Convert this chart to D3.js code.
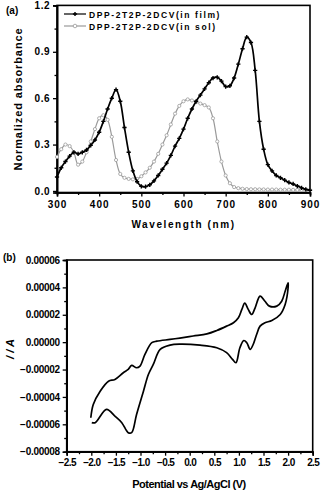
<!DOCTYPE html>
<html><head><meta charset="utf-8">
<script src="https://cdn.jsdelivr.net/npm/d3@7/dist/d3.min.js"></script>
<style>
html,body{margin:0;padding:0;background:#fff;}
svg text{font-family:"Liberation Sans",Arial,sans-serif;font-weight:bold;fill:#000;}
</style></head>
<body>
<svg id="c" width="322" height="492"></svg>
<script>
// ---- Panel (a) data: UV-vis absorption ----
const wavelength = [300,310,320,330,340,350,360,370,380,390,400,410,420,430,440,450,460,470,480,490,500,510,520,530,540,550,560,570,580,590,600,610,620,630,640,650,660,670,680,690,700,710,720,730,740,750,760,770,780,790,800,810,820,830,840,850,860,870,880,890,900];
const filmAbs = [0.09,0.15,0.19,0.225,0.25,0.24,0.25,0.265,0.295,0.33,0.38,0.45,0.53,0.6,0.655,0.58,0.41,0.25,0.13,0.06,0.03,0.028,0.04,0.065,0.1,0.14,0.18,0.23,0.29,0.34,0.4,0.47,0.53,0.58,0.62,0.66,0.7,0.73,0.735,0.71,0.675,0.68,0.73,0.82,0.92,0.995,0.96,0.78,0.45,0.27,0.17,0.13,0.1,0.085,0.07,0.055,0.045,0.032,0.02,0.01,0.005];
const solAbs = [0.22,0.27,0.3,0.29,0.25,0.17,0.19,0.25,0.32,0.4,0.47,0.49,0.46,0.35,0.2,0.11,0.085,0.078,0.075,0.078,0.095,0.12,0.15,0.19,0.24,0.3,0.36,0.43,0.5,0.55,0.58,0.592,0.585,0.575,0.565,0.555,0.54,0.47,0.32,0.19,0.1,0.05,0.025,0.018,0.014,0.012,0.011,0.011,0.01,0.01,0.009,0.009,0.009,0.008,0.008,0.008,0.007,0.007,0.007,0.006,0.006];
const seriesNames = ["DPP-2T2P-2DCV(in film)","DPP-2T2P-2DCV(in sol)"];
const aXTicks = [300,400,500,600,700,800,900];
const aYTicks = [0.0,0.3,0.6,0.9,1.2];

// ---- Panel (b) data: cyclic voltammogram (current in units of 1e-5 A) ----
const cvPotential = [-2.01,-1.96,-1.82,-1.65,-1.52,-1.35,-1.25,-1.18,-1.08,-1.01,-0.91,-0.77,-0.67,-0.4,-0.2,0.07,0.35,0.55,0.75,0.89,0.99,1.06,1.12,1.19,1.26,1.33,1.43,1.53,1.62,1.77,1.87,1.94,2.0,
  2.0,1.94,1.84,1.67,1.53,1.43,1.36,1.29,1.23,1.16,1.1,1.02,0.94,0.87,0.75,0.55,0.21,-0.2,-0.4,-0.6,-0.74,-0.84,-0.94,-1.08,-1.18,-1.25,-1.38,-1.52,-1.69,-1.92,-1.99];
const cvCurrent = [-5.52,-4.55,-3.58,-2.85,-2.72,-2.23,-1.99,-1.70,-1.87,-1.75,-0.9,-0.04,0.07,0.2,0.3,0.45,0.6,0.85,1.17,1.42,1.78,2.39,2.85,2.39,2.02,2.51,3.36,2.99,2.63,2.63,2.99,3.72,4.34,
  3.97,2.75,2.02,1.58,1.42,1.17,0.56,-0.17,-0.53,-0.04,0.12,-0.41,-1.5,-1.26,-0.77,-0.41,-0.22,-0.15,-0.22,-0.53,-1.63,-2.36,-3.58,-5.28,-6.61,-6.61,-5.88,-5.4,-4.91,-5.88,-5.88];
const bXTicks = [-2.5,-2.0,-1.5,-1.0,-0.5,0.0,0.5,1.0,1.5,2.0,2.5];
const bYTicks = [-0.00008,-0.00006,-0.00004,-0.00002,0.0,0.00002,0.00004,0.00006];

const svg = d3.select("#c");

// ================= Panel (a) =================
const ax = d3.scaleLinear().domain([300,900]).range([57,310]);
const ay = d3.scaleLinear().domain([-0.01,1.2]).range([192.5,5.4]);
const ga = svg.append("g");

function styleAxis(g){
  g.selectAll("path.domain").attr("stroke","#000").attr("stroke-width",1.6);
  g.selectAll(".tick line").attr("stroke","#000").attr("stroke-width",1.3);
}
ga.append("rect").attr("x",ax(300)).attr("y",ay(1.2)).attr("width",ax(900)-ax(300)).attr("height",ay(-0.01)-ay(1.2))
  .attr("fill","none").attr("stroke","#000").attr("stroke-width",1.6);
const aMinorX = d3.range(350,900,100);
const aMinorY = [0.15,0.45,0.75,1.05];
ga.append("g").attr("transform",`translate(0,${ay(-0.01)})`).call(d3.axisBottom(ax).tickValues(aMinorX).tickSize(2.5).tickFormat("")).call(styleAxis);
ga.append("g").attr("transform",`translate(${ax(300)},0)`).call(d3.axisLeft(ay).tickValues(aMinorY).tickSize(2.5).tickFormat("")).call(styleAxis);
const axB = ga.append("g").attr("transform",`translate(0,${ay(-0.01)})`).call(d3.axisBottom(ax).tickValues(aXTicks).tickSize(4).tickPadding(4).tickFormat(d3.format("d"))).call(styleAxis);
axB.selectAll("text").attr("font-size",10).attr("letter-spacing","1px");
const ayL = ga.append("g").attr("transform",`translate(${ax(300)},0)`).call(d3.axisLeft(ay).tickValues(aYTicks).tickSize(4).tickPadding(3).tickFormat(d3.format(".1f"))).call(styleAxis);
ayL.selectAll("text").attr("font-size",10).attr("letter-spacing","0.5px");

const lineA = (vals) => d3.line().x((d,i)=>ax(wavelength[i])).y(d=>ay(d)).curve(d3.curveCatmullRom.alpha(0.5))(vals);
ga.append("path").attr("d",lineA(solAbs)).attr("fill","none").attr("stroke","#9a9a9a").attr("stroke-width",1.2);
ga.append("g").selectAll("circle").data(solAbs).join("circle")
  .attr("cx",(d,i)=>ax(wavelength[i])).attr("cy",d=>ay(d)).attr("r",1.6)
  .attr("fill","#fff").attr("stroke","#9a9a9a").attr("stroke-width",0.8);
ga.append("path").attr("d",lineA(filmAbs)).attr("fill","none").attr("stroke","#000").attr("stroke-width",1.7);
const cross = d3.symbol().type(d3.symbolCross).size(10);
ga.append("g").selectAll("path").data(filmAbs).join("path")
  .attr("transform",(d,i)=>`translate(${ax(wavelength[i])},${ay(d)})`).attr("d",cross).attr("fill","#000");

const leg = ga.append("g");
leg.append("line").attr("x1",64).attr("x2",86).attr("y1",14).attr("y2",14).attr("stroke","#000").attr("stroke-width",1.2);
leg.append("path").attr("transform","translate(75,14)").attr("d",cross).attr("fill","#000");
leg.append("line").attr("x1",64).attr("x2",86).attr("y1",26).attr("y2",26).attr("stroke","#9a9a9a").attr("stroke-width",1.2);
leg.append("circle").attr("cx",75).attr("cy",26).attr("r",1.8).attr("fill","#fff").attr("stroke","#9a9a9a").attr("stroke-width",0.8);
leg.selectAll("text").data(seriesNames).join("text").attr("x",89).attr("y",(d,i)=>17.5+i*12)
  .attr("font-size",8.5).attr("letter-spacing","1.6px").text(d=>d);

ga.append("text").attr("x",6).attr("y",14).attr("font-size",10).text("(a)");
ga.append("text").attr("transform",`translate(22,${(ay(1.2)+ay(-0.01))/2}) rotate(-90)`).attr("text-anchor","middle")
  .attr("font-size",11).attr("letter-spacing","0.9px").text("Normalized absorbance");
ga.append("text").attr("x",(ax(300)+ax(900))/2).attr("y",228).attr("text-anchor","middle")
  .attr("font-size",10).attr("letter-spacing","1.6px").text("Wavelength (nm)");

// ================= Panel (b) =================
const bx = d3.scaleLinear().domain([-2.5,2.5]).range([66.7,312.7]);
const by = d3.scaleLinear().domain([-0.00008,0.00006]).range([451.7,260]);
const gb = svg.append("g");
gb.append("rect").attr("x",bx(-2.5)).attr("y",by(0.00006)).attr("width",bx(2.5)-bx(-2.5)).attr("height",by(-0.00008)-by(0.00006))
  .attr("fill","none").attr("stroke","#000").attr("stroke-width",1.6);
const bMinorX = d3.range(-2.25,2.5,0.5);
const bMinorY = [-0.00007,-0.00005,-0.00003,-0.00001,0.00001,0.00003,0.00005];
gb.append("g").attr("transform",`translate(0,${by(-0.00008)})`).call(d3.axisBottom(bx).tickValues(bMinorX).tickSize(2.5).tickFormat("")).call(styleAxis);
gb.append("g").attr("transform",`translate(${bx(-2.5)},0)`).call(d3.axisLeft(by).tickValues(bMinorY).tickSize(2.5).tickFormat("")).call(styleAxis);
const bxB = gb.append("g").attr("transform",`translate(0,${by(-0.00008)})`).call(d3.axisBottom(bx).tickValues(bXTicks).tickSize(4).tickPadding(3).tickFormat(d3.format(".1f"))).call(styleAxis);
bxB.selectAll("text").attr("font-size",10).attr("letter-spacing","-0.6px");
const byL = gb.append("g").attr("transform",`translate(${bx(-2.5)},0)`).call(d3.axisLeft(by).tickValues(bYTicks).tickSize(4).tickPadding(3).tickFormat(d3.format(".5f"))).call(styleAxis);
byL.selectAll("text").attr("font-size",10).attr("letter-spacing","-0.3px");

const cvPts = cvPotential.map((v,i)=>[v,cvCurrent[i]*1e-5]);
gb.append("path").attr("d",d3.line().x(d=>bx(d[0])).y(d=>by(d[1])).curve(d3.curveCatmullRom.alpha(0.5))(cvPts))
  .attr("fill","none").attr("stroke","#000").attr("stroke-width",1.7).attr("stroke-linejoin","round");

gb.append("text").attr("x",3).attr("y",261).attr("font-size",10).text("(b)");
gb.append("text").attr("transform",`translate(14,349) rotate(-90)`).attr("text-anchor","middle")
  .attr("font-size",11).attr("font-style","italic").text("/ / A");
gb.append("text").attr("x",189).attr("y",488).attr("text-anchor","middle")
  .attr("font-size",11).attr("letter-spacing","-0.5px").text("Potential vs Ag/AgCl (V)");
</script>
</body></html>
